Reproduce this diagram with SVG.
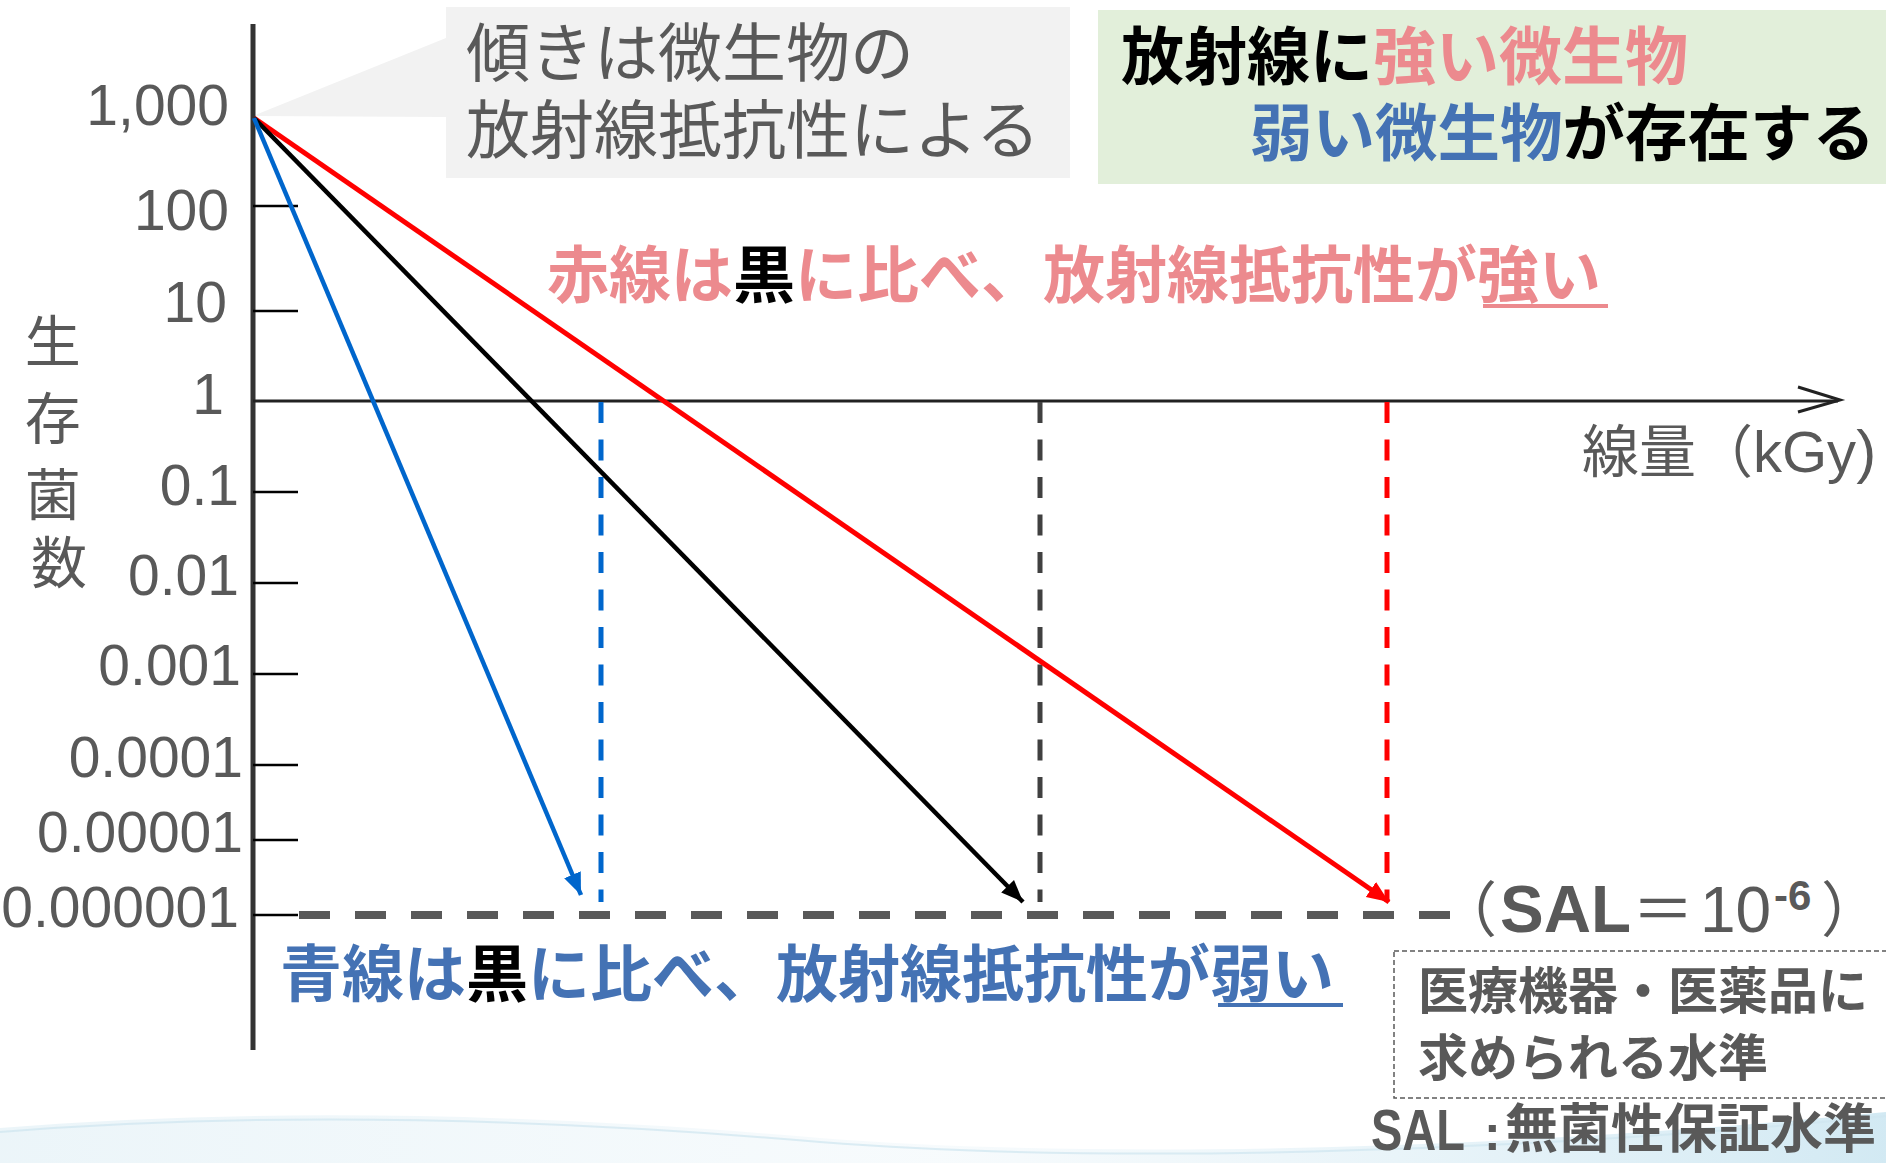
<svg xmlns="http://www.w3.org/2000/svg" width="1886" height="1163" viewBox="0 0 1886 1163">
<style>
.num{font-family:"Liberation Sans",Arial,sans-serif;font-size:57px;fill:#595959;text-anchor:end}
.jp{font-family:"Noto Sans CJK JP",sans-serif}
.lat{font-family:"Liberation Sans",Arial,sans-serif}
.gray{fill:#595959}
.pink{fill:#EC8A8E}
.blue{fill:#4472B4}
.blk{fill:#000}
.tick{stroke:#000;stroke-width:2.5}
</style>
<defs>
<linearGradient id="wave" x1="0" y1="0" x2="1" y2="0">
<stop offset="0" stop-color="#d8ebf3" stop-opacity="0.5"/>
<stop offset="0.5" stop-color="#e4f1f7" stop-opacity="0.3"/>
<stop offset="1" stop-color="#bfe0ee" stop-opacity="0.7"/>
</linearGradient>
<marker id="ahBlue" markerUnits="userSpaceOnUse" markerWidth="24" markerHeight="20" refX="22" refY="9" orient="auto"><path d="M0,0 L22,9 L0,18 z" fill="#0066CC"/></marker>
<marker id="ahBlack" markerUnits="userSpaceOnUse" markerWidth="24" markerHeight="20" refX="22" refY="9" orient="auto"><path d="M0,0 L22,9 L0,18 z" fill="#000"/></marker>
<marker id="ahRed" markerUnits="userSpaceOnUse" markerWidth="24" markerHeight="20" refX="22" refY="9" orient="auto"><path d="M0,0 L22,9 L0,18 z" fill="#FF0000"/></marker>
</defs>
<rect width="1886" height="1163" fill="#fff"/>
<g id="background-wave">
<path d="M0,1128 C250,1108 520,1112 820,1138 C1100,1160 1500,1150 1886,1112 L1886,1163 L0,1163 Z" fill="url(#wave)"/>
<path d="M0,1132 C250,1112 520,1116 820,1142 C1100,1164 1500,1154 1886,1116" fill="none" stroke="#cfe5ef" stroke-width="2" opacity="0.7"/>
</g>

<g id="callout">
<polygon points="446,38 253,116 446,117" fill="#F2F2F2"/>
<rect x="446" y="7" width="624" height="171" fill="#F2F2F2"/>
<text class="jp gray" font-size="64" x="466" y="76">傾きは微生物の</text>
<text class="jp gray" font-size="64" x="466" y="153">放射線抵抗性による</text>
</g>

<g id="summary-box">
<rect x="1098" y="10" width="800" height="174" fill="#E2EFDA"/>
<text class="jp" font-size="63" font-weight="700" x="1121" y="79"><tspan class="blk">放射線に</tspan><tspan class="pink">強い微生物</tspan></text>
<text class="jp" font-size="62.5" font-weight="700" x="1250" y="156"><tspan class="blue">弱い微生物</tspan><tspan class="blk">が存在する</tspan></text>
</g>

<g id="axes">
<line x1="253" y1="24" x2="253" y2="1050" stroke="#333" stroke-width="5"/>
<line x1="253" y1="401" x2="1838" y2="401" stroke="#222" stroke-width="3"/>
<polyline points="1798,387 1840,400 1798,412" fill="none" stroke="#222" stroke-width="3"/>
<line class="tick" x1="253" y1="206" x2="298" y2="206"/>
<line class="tick" x1="253" y1="311" x2="298" y2="311"/>
<line class="tick" x1="253" y1="492" x2="298" y2="492"/>
<line class="tick" x1="253" y1="583" x2="298" y2="583"/>
<line class="tick" x1="253" y1="674" x2="298" y2="674"/>
<line class="tick" x1="253" y1="765" x2="298" y2="765"/>
<line class="tick" x1="253" y1="840" x2="298" y2="840"/>
<line class="tick" x1="253" y1="915" x2="298" y2="915"/>
</g>

<g id="y-labels">
<text class="num" x="229" y="125">1,000</text>
<text class="num" x="229" y="230">100</text>
<text class="num" x="227" y="322">10</text>
<text class="num" x="224" y="414">1</text>
<text class="num" x="239" y="505">0.1</text>
<text class="num" x="239" y="595">0.01</text>
<text class="num" x="241" y="685">0.001</text>
<text class="num" x="243" y="777">0.0001</text>
<text class="num" x="243" y="852">0.00001</text>
<text class="num" x="239" y="927">0.000001</text>
</g>

<g id="y-title">
<text class="jp gray" font-size="56" text-anchor="middle">
<tspan x="59" y="362">生</tspan>
<tspan x="59" y="439">存</tspan>
<tspan x="59" y="515">菌</tspan>
<tspan x="59" y="583">数</tspan>
</text>
</g>

<g id="x-title">
<text class="jp gray" font-size="57" x="1582" y="472">線量（<tspan class="lat" font-size="58">kGy</tspan><tspan class="lat" font-size="60">)</tspan></text>
</g>

<g id="connectors">
<line x1="299" y1="915" x2="1452" y2="915" stroke="#595959" stroke-width="8" stroke-dasharray="31 25"/>
<line x1="601" y1="402" x2="601" y2="902" stroke="#0066CC" stroke-width="5" stroke-dasharray="21 16.5"/>
<line x1="1040" y1="402" x2="1040" y2="902" stroke="#404040" stroke-width="5" stroke-dasharray="21 16.5"/>
<line x1="1387" y1="402" x2="1387" y2="902" stroke="#FF0000" stroke-width="5" stroke-dasharray="21 16.5"/>
<line x1="254" y1="118" x2="1389" y2="902" stroke="#FF0000" stroke-width="5" marker-end="url(#ahRed)"/>
<line x1="254" y1="118" x2="1023" y2="902" stroke="#000" stroke-width="4.5" marker-end="url(#ahBlack)"/>
<line x1="254" y1="118" x2="581" y2="895" stroke="#0066CC" stroke-width="4.5" marker-end="url(#ahBlue)"/>
</g>

<g id="red-note">
<text class="jp" font-size="62" font-weight="700" x="547" y="298"><tspan class="pink">赤線は</tspan><tspan class="blk">黒</tspan><tspan class="pink">に比べ、放射線抵抗性が強い</tspan></text>
<line x1="1483" y1="306" x2="1608" y2="306" stroke="#EC8A8E" stroke-width="4"/>
</g>

<g id="blue-note">
<text class="jp" font-size="62" font-weight="700" x="280" y="997"><tspan class="blue">青線は</tspan><tspan class="blk">黒</tspan><tspan class="blue">に比べ、放射線抵抗性が弱い</tspan></text>
<line x1="1218" y1="1005" x2="1343" y2="1005" stroke="#4472B4" stroke-width="4"/>
</g>

<g id="sal-label" class="gray">
<text class="jp" font-size="60" x="1437" y="932">（</text>
<text class="lat" font-weight="700" font-size="66" x="1500" y="932" textLength="131" lengthAdjust="spacingAndGlyphs">SAL</text>
<text class="jp" font-size="62" x="1632" y="932">＝</text>
<text class="lat" font-size="64" x="1700" y="932">10</text>
<text class="lat" font-weight="700" font-size="42" x="1774" y="910">-6</text>
<text class="jp" font-size="60" x="1821" y="932">）</text>
</g>

<g id="standard-box">
<rect x="1394" y="951" width="520" height="147" fill="none" stroke="#595959" stroke-width="1.5" stroke-dasharray="5 3"/>
<text class="jp gray" font-size="50" font-weight="700" x="1418" y="1009">医療機器・医薬品に</text>
<text class="jp gray" font-size="50" font-weight="700" x="1418" y="1076">求められる水準</text>
</g>

<g id="sal-definition" class="gray">
<text class="lat" font-weight="700" font-size="58" transform="translate(1371,1150) scale(0.81,1)">SAL</text>
<text class="lat" font-weight="700" font-size="50" x="1484" y="1150">:</text>
<text class="jp" font-weight="700" font-size="53" x="1505" y="1148">無菌性保証水準</text>
</g>
</svg>
